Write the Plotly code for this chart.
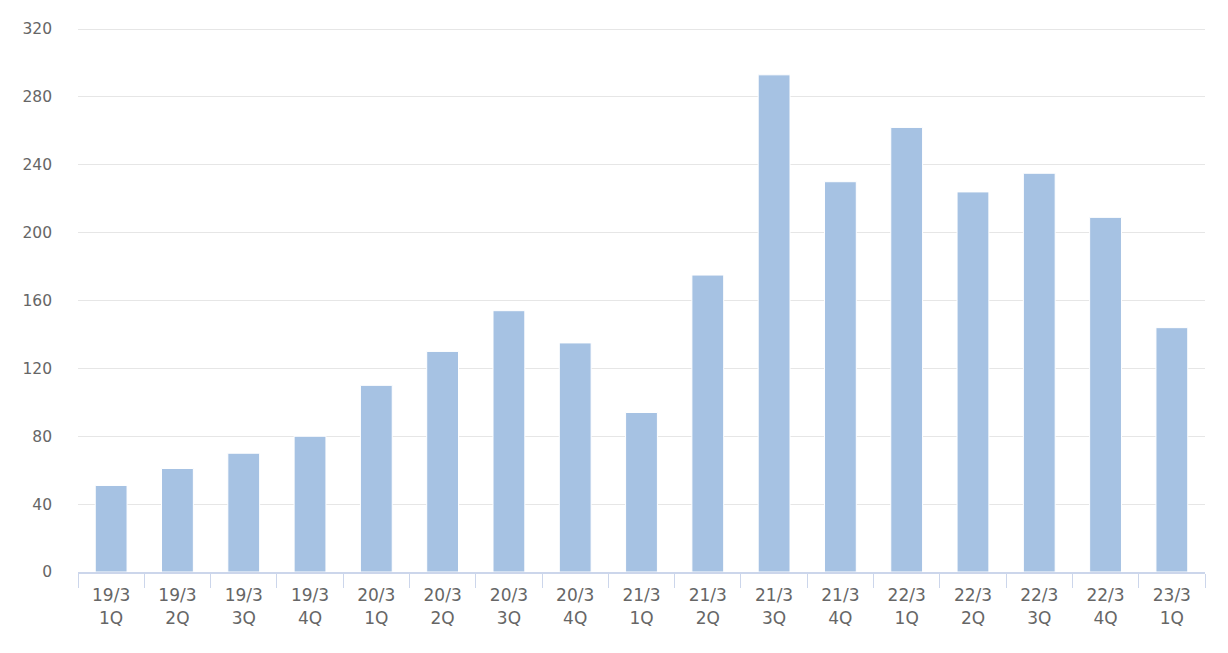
import plotly.graph_objects as go

categories = ["19/3<br>1Q", "19/3<br>2Q", "19/3<br>3Q", "19/3<br>4Q",
              "20/3<br>1Q", "20/3<br>2Q", "20/3<br>3Q", "20/3<br>4Q",
              "21/3<br>1Q", "21/3<br>2Q", "21/3<br>3Q", "21/3<br>4Q",
              "22/3<br>1Q", "22/3<br>2Q", "22/3<br>3Q", "22/3<br>4Q",
              "23/3<br>1Q"]
values = [51, 61, 70, 80, 110, 130, 154, 135, 94, 175, 293, 230, 262, 224, 235, 209, 144]
y_ticks = [0, 40, 80, 120, 160, 200, 240, 280, 320]

fig = go.Figure(go.Bar(
    x=categories, y=values,
    marker=dict(color="#a6c2e3", line=dict(color="#ffffff", width=1)),
    hoverinfo="x+y",
))

fig.update_layout(
    width=1212, height=637,
    margin=dict(l=70, r=15, t=20, b=73),
    paper_bgcolor="white", plot_bgcolor="white",
    bargap=0.52,
    showlegend=False,
    font=dict(family="DejaVu Sans", color="#666666"),
)
fig.update_xaxes(
    type="category",
    showline=True, linecolor="#ccd6eb", linewidth=2,
    ticks="outside", tickson="boundaries", ticklen=14, tickcolor="#ccd6eb", tickwidth=1,
    tickfont=dict(size=17, color="#666666"),
    ticklabelstandoff=7,
    showgrid=False,
)
fig.update_yaxes(
    range=[0, 320.6], tickvals=y_ticks,
    showgrid=True, gridcolor="#e6e6e6", gridwidth=1,
    zeroline=False,
    tickfont=dict(size=15.5, color="#666666"),
    ticks="", ticklabelstandoff=25,
)

fig.write_html("out.html")
